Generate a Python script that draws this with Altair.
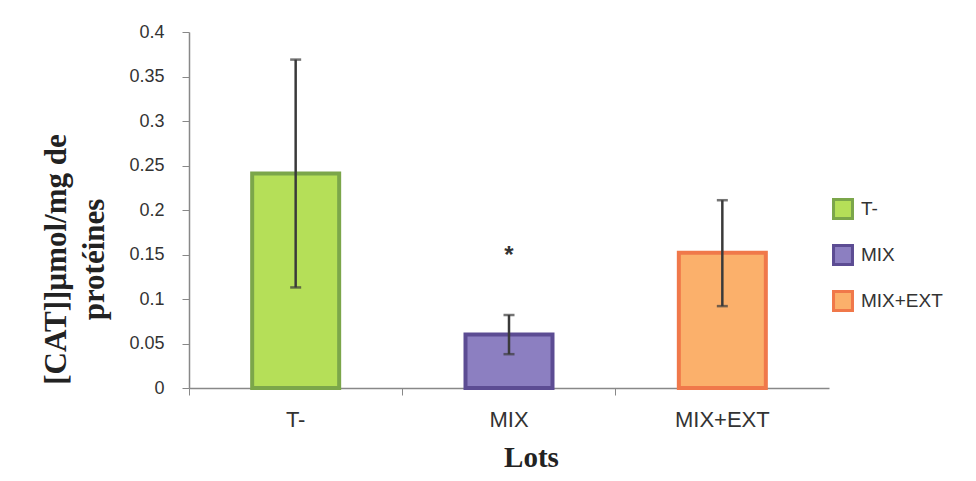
import altair as alt
import pandas as pd

lots = ["T-", "MIX", "MIX+EXT"]
means = [0.241, 0.060, 0.152]
err_low = [0.113, 0.038, 0.092]
err_high = [0.369, 0.082, 0.211]
signif = ["", "*", ""]
signif_y = [0.0, 0.148, 0.0]
fills = ["#b5df58", "#8c7fc1", "#fbb06b"]
strokes = ["#7ba64a", "#5c4c93", "#f0784a"]
y_ticks = [0, 0.05, 0.1, 0.15, 0.2, 0.25, 0.3, 0.35, 0.4]

df = pd.DataFrame({
    "lot": lots, "mean": means, "lo": err_low, "hi": err_high,
    "sig": signif, "sig_y": signif_y,
})

x_enc = alt.X(
    "lot:N", sort=lots,
    scale=alt.Scale(paddingInner=0, paddingOuter=0),
    axis=alt.Axis(
        title="Lots", titleFont="Liberation Serif", titleFontWeight="bold",
        titleFontSize=29, titleColor="#222", titleX=342, titleY=78,
        titleBaseline="alphabetic",
        labelFont="Liberation Sans", labelFontSize=22, labelColor="#333",
        labelPadding=14, labelAngle=0,
        bandPosition=0, tickSize=7, tickColor="#888", domainColor="#888",
        domainWidth=1.5, grid=False,
    ),
)
y_scale = alt.Scale(domain=[0, 0.4], nice=False)

legend_kw = dict(
    title=None, orient="none", legendX=643, legendY=166, padding=0,
    symbolType="square", symbolSize=360, symbolStrokeWidth=3,
    labelFont="Liberation Sans", labelFontSize=19, labelColor="#333",
    labelOffset=7, rowPadding=14,
)

bars = alt.Chart(df).mark_bar(size=87, strokeWidth=4).encode(
    x=x_enc,
    y=alt.Y("mean:Q", scale=y_scale, axis=alt.Axis(
        values=y_ticks, format="~g",
        title=["[CAT]]µmol/mg de", "protéines"],
        titleFont="Liberation Serif", titleFontWeight="bold", titleFontSize=31,
        titleLineHeight=38, titleColor="#222", titleX=-117, titleY=227,
        labelFont="Liberation Sans", labelFontSize=18, labelColor="#333",
        labelPadding=18, tickSize=7, tickColor="#888", domainColor="#888",
        domainWidth=1.5, grid=False,
    )),
    fill=alt.Fill("lot:N", sort=lots, scale=alt.Scale(domain=lots, range=fills),
                  legend=alt.Legend(**legend_kw)),
    stroke=alt.Stroke("lot:N", sort=lots, scale=alt.Scale(domain=lots, range=strokes),
                      legend=alt.Legend(**legend_kw)),
)

err_line = alt.Chart(df).mark_rule(color="#3a3a3a", strokeWidth=2.5).encode(
    x=alt.X("lot:N", sort=lots), y=alt.Y("lo:Q", scale=y_scale), y2="hi:Q",
)
cap_hi = alt.Chart(df).mark_tick(color="#3a3a3a", thickness=2.5, size=11, orient="horizontal").encode(
    x=alt.X("lot:N", sort=lots), y=alt.Y("hi:Q", scale=y_scale),
)
cap_lo = alt.Chart(df).mark_tick(color="#3a3a3a", thickness=2.5, size=11, orient="horizontal").encode(
    x=alt.X("lot:N", sort=lots), y=alt.Y("lo:Q", scale=y_scale),
)
stars = alt.Chart(df).mark_text(font="Liberation Sans", fontWeight="bold", fontSize=24,
                                color="#333", baseline="middle").encode(
    x=alt.X("lot:N", sort=lots), y=alt.Y("sig_y:Q", scale=y_scale), text="sig:N",
)

chart = alt.layer(bars, err_line, cap_hi, cap_lo, stars).properties(
    width=640, height=356,
    background="white",
    autosize=alt.AutoSizeParams(type="none"),
    padding={"left": 181, "top": 24, "right": 139, "bottom": 85},
).configure_view(stroke=None)

chart.save("out.html", embed_options={"renderer": "svg", "actions": False})
